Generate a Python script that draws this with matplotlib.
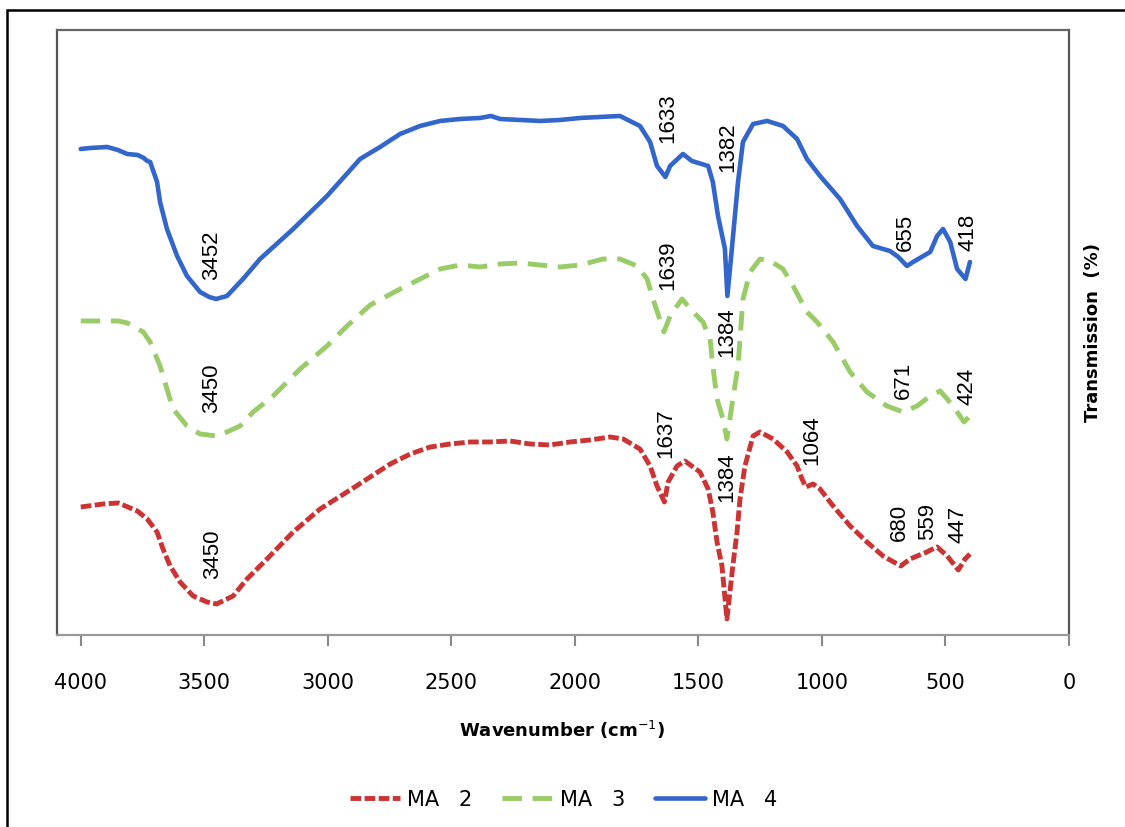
import numpy as np
import matplotlib.pyplot as plt
from matplotlib.patches import Rectangle

# FTIR spectra, transmission in arbitrary offset units
wn_ma4 = [4000, 3960, 3893, 3850, 3812, 3770, 3745, 3731, 3719, 3691, 3679, 3651, 3610,
          3570, 3517, 3480, 3452, 3408, 3343, 3274, 3140, 3003, 2869, 2788,
          2707, 2626, 2545, 2464, 2383, 2340, 2302, 2221, 2140, 2059, 1978, 1898, 1817,
          1736, 1695, 1667, 1633, 1614, 1562, 1526, 1460, 1441, 1420, 1392, 1382,
          1364, 1339, 1319, 1278, 1221, 1157, 1100, 1060, 1007, 926, 857, 793, 724, 690,
          655, 630, 561, 533, 509, 480, 452, 418, 400]
t_ma4 = [486, 487, 488, 485, 481, 480, 477, 474, 473, 453, 433, 406, 379,
         359, 343, 338, 336, 339, 356, 376, 406, 439, 476, 488,
         501, 509, 514, 516, 517, 519, 516, 515, 514, 515, 517, 518, 519,
         509, 493, 469, 458, 469, 481, 474, 469, 453, 419, 386, 339,
         386, 453, 493, 511, 514, 509, 496, 476, 459, 436, 409, 389, 384, 378,
         369, 373, 383, 399, 406, 393, 366, 356, 373]

wn_ma3 = [4000, 3848, 3812, 3747, 3719, 3679, 3651, 3626, 3570, 3517, 3450, 3408, 3355,
          3302, 3221, 3112, 3003, 2922, 2828, 2707, 2626, 2545, 2464, 2383, 2302, 2221,
          2140, 2059, 1978, 1885, 1817, 1748, 1707, 1683, 1639, 1614, 1566, 1521, 1481,
          1452, 1441, 1424, 1400, 1384, 1360, 1339, 1319, 1290, 1250, 1209, 1157, 1116,
          1060, 1019, 954, 885, 817, 736, 671, 614, 561, 521, 492, 452, 424, 400]
t_ma3 = [314, 314, 312, 303, 293, 269, 246, 226, 209, 201, 199, 203, 209,
         223, 239, 266, 289, 309, 330, 346, 356, 366, 370, 368, 371, 372,
         370, 368, 370, 376, 376, 369, 356, 336, 303, 319, 336, 323, 313,
         296, 269, 236, 216, 196, 236, 269, 336, 363, 376, 374, 366, 349,
         323, 313, 293, 263, 243, 229, 223, 229, 239, 244, 236, 223, 213, 219]

wn_ma2 = [4000, 3909, 3848, 3771, 3731, 3691, 3667, 3638, 3598, 3545, 3489, 3450, 3383,
          3327, 3246, 3140, 3031, 2922, 2828, 2747, 2666, 2585, 2504, 2423, 2343,
          2262, 2181, 2100, 2019, 1938, 1857, 1804, 1736, 1695, 1667, 1637, 1622, 1586,
          1554, 1493, 1460, 1441, 1424, 1404, 1384, 1360, 1343, 1331, 1311, 1278, 1250,
          1197, 1140, 1100, 1080, 1064, 1035, 1007, 954, 885, 817, 752, 680, 643, 574,
          559, 533, 492, 447, 420, 400]
t_ma2 = [128, 131, 132, 124, 116, 103, 86, 69, 53, 39, 33, 31, 39,
         56, 76, 103, 126, 143, 158, 171, 181, 188, 191, 193, 193,
         194, 191, 190, 193, 195, 198, 196, 186, 169, 149, 133, 153, 169,
         174, 163, 146, 123, 93, 69, 16, 69, 103, 136, 169, 199, 203,
         196, 183, 169, 156, 148, 151, 146, 129, 109, 93, 79, 69, 76, 83,
         85, 88, 79, 65, 76, 81]

# peak labels: text, wavenumber position, height
lab_ma4 = ["3452", "1633", "1382", "655", "418"]
lab_ma4_x = [3472, 1624, 1379, 663, 408]
lab_ma4_y = [381, 518, 489, 404, 404]

lab_ma3 = ["3450", "1639", "1384", "671", "424"]
lab_ma3_x = [3472, 1624, 1383, 671, 412]
lab_ma3_y = [248, 371, 304, 256, 250]

lab_ma2 = ["3450", "1637", "1384", "1064", "680", "559", "447"]
lab_ma2_x = [3468, 1632, 1383, 1039, 687, 570, 449]
lab_ma2_y = [82, 203, 159, 196, 114, 114, 112]

xticks = [4000, 3500, 3000, 2500, 2000, 1500, 1000, 500, 0]

red = '#CC3333'
green = '#99CC66'
blue = '#3366CC'

fig = plt.figure(figsize=(11.25, 8.28), dpi=100)
ax = fig.add_axes([0.0507, 0.2319, 0.8993, 0.7307])

ax.plot(wn_ma2, t_ma2, color=red, lw=3.5, ls=(0, (2.2, 0.7)), label='MA   2')
ax.plot(wn_ma3, t_ma3, color=green, lw=3.5, ls=(0, (4.0, 2.2)), label='MA   3')
ax.plot(wn_ma4, t_ma4, color=blue, lw=3.3, solid_capstyle='round', label='MA   4')

for labs, xs, ys in [(lab_ma4, lab_ma4_x, lab_ma4_y),
                     (lab_ma3, lab_ma3_x, lab_ma3_y),
                     (lab_ma2, lab_ma2_x, lab_ma2_y)]:
    for s, x, y in zip(labs, xs, ys):
        ax.text(x, y, s, rotation=90, ha='center', va='center',
                fontsize=16, family='Liberation Sans')

ax.set_xlim(4096, 0)
ax.set_ylim(0, 605)
ax.set_xticks(xticks)
ax.set_xticklabels([str(v) for v in xticks], fontsize=15, family='DejaVu Sans')
ax.set_yticks([])
ax.tick_params(axis='x', direction='out', length=8, width=1.5, color='#888888', pad=19)

ax.spines['left'].set_color('#555555')
ax.spines['right'].set_color('#555555')
ax.spines['top'].set_color('#666666')
ax.spines['bottom'].set_color('#999999')
for sp in ax.spines.values():
    sp.set_linewidth(1.6)

fig.text(562 / 1125, 1 - 730 / 828, 'Wavenumber (cm$^{-1}$)', ha='center', va='center',
         fontsize=13, fontweight='bold')
fig.text(1093 / 1125, 1 - 333 / 828, 'Transmission  (%)', rotation=90, ha='center',
         va='center', fontsize=13, fontweight='bold')

fig.legend(loc='center', bbox_to_anchor=(0.501, 1 - 800 / 828), ncol=3, frameon=False,
           fontsize=15, handlelength=2.4, handletextpad=0.35, columnspacing=1.45)

# outer frame
fig.patches.append(Rectangle((7 / 1125, -0.05), 1.2, 1.05 - 11 / 828, transform=fig.transFigure,
                             fill=False, edgecolor='black', lw=1.8, clip_on=False))

fig.savefig('out.png', dpi=100)
